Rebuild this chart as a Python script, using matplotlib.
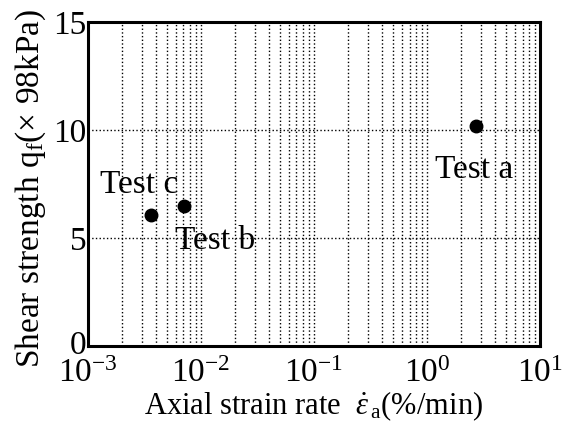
import matplotlib
matplotlib.use("Agg")
import matplotlib.pyplot as plt

# shear strength vs axial strain rate
tests = ["Test a", "Test b", "Test c"]
strain_rate = [2.7, 0.0071, 0.0036]
shear_strength = [10.2, 6.5, 6.05]
label_x = [1.18, 0.0059, 0.00128]
label_y = [7.8, 4.5, 7.1]

plt.rcParams['font.family'] = ['Liberation Serif', 'DejaVu Serif']
plt.rcParams['mathtext.fontset'] = 'custom'
plt.rcParams['mathtext.rm'] = 'Liberation Serif'
plt.rcParams['mathtext.it'] = 'Liberation Serif:italic'

fig = plt.figure(figsize=(5.74, 4.26), dpi=100)
ax = fig.add_axes([0.153, 0.188, 0.788, 0.76])

ax.plot(strain_rate, shear_strength, 'o', color='black', markersize=9)
for name, tx, ty in zip(tests, label_x, label_y):
    ax.text(tx, ty, name, fontsize=24, va='baseline', ha='left')

ax.set_xscale('log')
ax.set_xlim(1e-3, 1e1)
ax.set_ylim(0, 15)
ax.set_yticks([0, 5, 10, 15])

ax.grid(True, which='both', axis='x', linestyle=':', color='black', linewidth=1.0)
ax.grid(True, which='major', axis='y', linestyle=':', color='black', linewidth=1.0)
ax.tick_params(which='both', length=0, labelsize=24)
ax.tick_params(axis='x', pad=9)
ax.tick_params(axis='y', pad=1)
for s in ax.spines.values():
    s.set_linewidth(2.2)
ax.get_yticklabels()[0].set_va('center')

ax.set_xlabel(r'Axial strain rate  $\dot{\varepsilon}_{\,\mathrm{a}}$(%/min)', fontsize=22, labelpad=0)
ax.set_ylabel(r'Shear strength q$_\mathrm{f}$($\times$ 98kPa)', fontsize=24)
ax.yaxis.set_label_coords(-0.088, 0.485)

fig.savefig('out.png', dpi=100)
